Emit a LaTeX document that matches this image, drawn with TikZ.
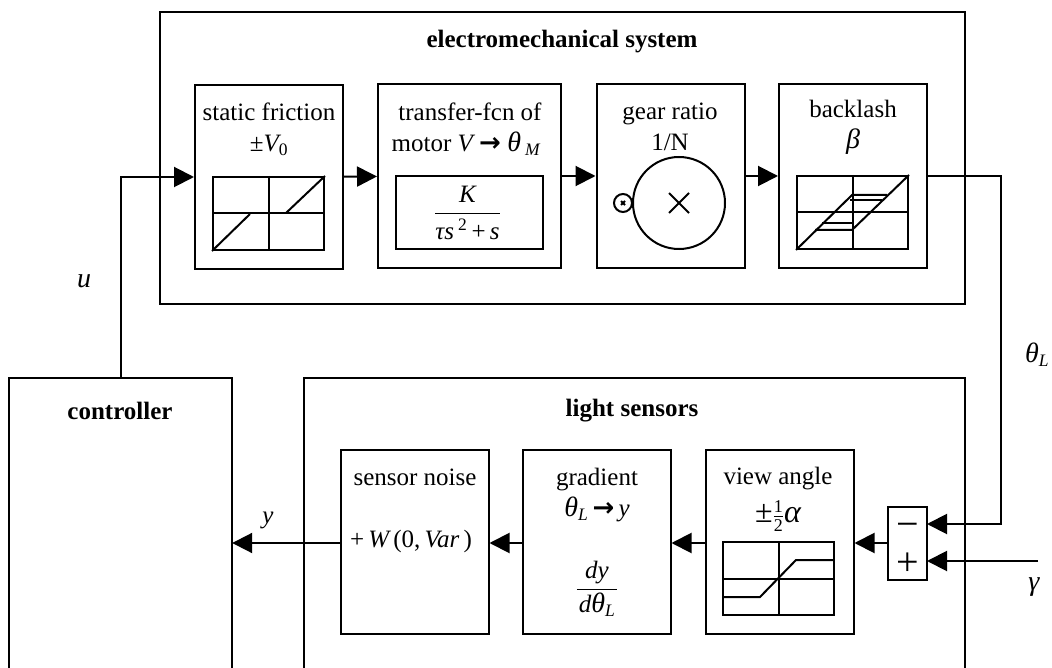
\documentclass[tikz,border=0pt]{standalone}
\usepackage{fontspec}
\setmainfont{Liberation Serif}
\newfontfamily\arrowfont{DejaVu Sans}
\usetikzlibrary{arrows.meta}
\newcommand{\bigit}[1]{{\fontsize{28}{31}\selectfont\itshape #1}}
\newcommand{\subL}{\textsubscript{\itshape L}}
\newcommand{\toarrow}{{\arrowfont\bfseries\fontsize{26}{26}\selectfont →}}
\tikzset{
  block/.style={rectangle,draw=black,line width=2pt,fill=white,minimum width=148,minimum height=184,inner sep=0},
  plotbox/.style={rectangle,draw=black,line width=2pt,minimum width=111,minimum height=73,inner sep=0},
  wire/.style={line width=2pt,-{Triangle[length=20pt,width=20pt]}},
  plain/.style={line width=2pt},
  frame/.style={line width=2pt},
  txt/.style={inner sep=0,align=center,font=\fontsize{25}{31}\selectfont},
  big/.style={inner sep=0,font=\fontsize{40}{40}\selectfont}
}
\begin{document}
\begin{tikzpicture}[x=1pt,y=-1pt]
    \useasboundingbox (0,0) rectangle (1052,668);
    \node (mech) at (562.5,158) [rectangle,draw=black,line width=2pt,minimum width=805,minimum height=292,inner sep=0] {};
    \node (sensors) at (634.5,523) [rectangle,draw=none,minimum width=661,minimum height=290,inner sep=0] {};
    \node (controller) at (120.5,523) [rectangle,draw=none,minimum width=223,minimum height=290,inner sep=0] {};
    \draw [frame] (sensors.south west) -- (sensors.north west) -- (sensors.north east) -- (sensors.south east);
    \draw [frame] (controller.south west) -- (controller.north west) -- (controller.north east) -- (controller.south east);
    \node (mechtitle) at (562,42) [txt] {\bfseries electromechanical system};
    \node (sensortitle) at (632,411) [txt] {\bfseries light sensors};
    \node (ctrltitle) at (120,411) [txt] {\bfseries controller};

    \node (friction) at (269,177) [block] {};
    \node (motor) at (469.5,176) [block,minimum width=183] {};
    \node (gear) at (670.5,176) [block] {};
    \node (backlash) at (853,176) [block] {};
    \node (noise) at (414.5,541.5) [block] {};
    \node (gradient) at (596.5,541.5) [block] {};
    \node (view) at (779.5,541.5) [block] {};
    \node (sum) at (907.5,543) [rectangle,draw=black,line width=2pt,fill=white,minimum width=39,minimum height=73,inner sep=0] {};
    \node (minus) at (907.5,530) [big] {−};
    \node (plus) at (907.5,564) [big] {+};
    \coordinate (minusin) at (927,524);
    \coordinate (plusin) at (927,561);

    \node (frictiontext) at (269,129) [txt] {static friction\\±{\itshape V}\textsubscript{0}};
    \node (motortext) at (466,129) [txt] {\hspace{8pt}transfer-fcn of\\motor {\itshape V} \toarrow\ \bigit{θ}\,\textsubscript{\itshape M}};
    \node (geartext) at (670,127) [txt] {gear ratio\\1/N};
    \node (backlashtext) at (853,127) [txt] {backlash\\\bigit{β}};
    \node (noisetext) at (415,477) [txt] {sensor noise};
    \node (noiseterm) at (411,541) [txt] {+\,{\itshape W}\,(0,\,{\itshape Var}\,)};
    \node (gradtext) at (597,495) [txt] {gradient\\\bigit{θ}\subL\,\toarrow\,{\itshape y}};
    \node (viewtext) at (778,479) [txt] {view angle};
    \node (viewterm) at (778,516) [txt] {{\fontsize{32}{31}\selectfont ±}$\frac{\mbox{\fontsize{18}{18}\selectfont 1}}{\mbox{\fontsize{18}{18}\selectfont 2}}${\fontsize{32}{31}\selectfont\itshape α}};

    \node (fricplot) at (268.5,213.5) [plotbox] {};
    \draw [plain] (fricplot.north) -- (fricplot.south);
    \draw [plain] (fricplot.west) -- (fricplot.east);
    \draw [plain] (fricplot.south west) -- (250,214);
    \draw [plain] (286,213) -- (fricplot.north east);

    \node (motorplot) at (469.5,213) [plotbox,minimum width=147] {};
    \node (motorfrac) at (467.5,213) [txt] {$\displaystyle\frac{\mbox{\itshape K}}{\mbox{\rule{0pt}{25pt}{\itshape τs}\,\textsuperscript{2}\,+\,{\itshape s}}}$};

    \node (wheel) at (679,203) [circle,draw=black,line width=2pt,minimum size=92,inner sep=0] {};
    \node (pinion) at (623,203) [circle,draw=black,line width=2pt,minimum size=18,inner sep=0] {};
    \draw [plain] (669,193) -- (689,213);
    \draw [plain] (669,213) -- (689,193);
    \draw [plain] (621,201) -- (625,205);
    \draw [plain] (621,205) -- (625,201);

    \node (lashplot) at (852.5,212.5) [plotbox] {};
    \draw [plain] (lashplot.north) -- (lashplot.south);
    \draw [plain] (lashplot.west) -- (lashplot.east);
    \draw [plain] (lashplot.south west) -- (852,195) -- (887,195);
    \draw [plain] (lashplot.north east) -- (852,230) -- (815,230);
    \draw [plain] (850,200) -- (882,200);
    \draw [plain] (822,223) -- (853,223);

    \node (viewplot) at (778.5,578.5) [plotbox] {};
    \draw [plain] (viewplot.north) -- (viewplot.south);
    \draw [plain] (viewplot.west) -- (viewplot.east);
    \draw [plain] (723,597) -- (760,597) -- (796,560) -- (834,560);

    \node (dy) at (597,589) [txt] {$\displaystyle\frac{\mbox{\itshape dy}}{\mbox{\hspace{2pt}{\itshape d}\bigit{θ}\subL\hspace{2pt}}}$};

    \coordinate (lturn) at (1001,176);
    \coordinate (gammaend) at (1038,561);
    \draw [wire] (controller.north) -- (controller.north |- friction.west) -- (friction.west);
    \draw [wire] (friction) -- (motor);
    \draw [wire] (motor) -- (gear);
    \draw [wire] (gear) -- (backlash);
    \draw [wire] (backlash.east) -- (lturn) -- (lturn |- minusin) -- (minusin);
    \draw [wire] (gammaend) -- (plusin);
    \draw [wire] (sum.west) -- (sum -| view.east);
    \draw [wire] (sum -| view.west) -- (sum -| gradient.east);
    \draw [wire] (sum -| gradient.west) -- (sum -| noise.east);
    \draw [wire] (sum -| noise.west) -- (sum -| controller.east);

    \node (ulabel) at (84,281) [txt] {\bigit{u}};
    \node (ylabel) at (268,520) [txt] {\itshape y};
    \node (thetalabel) at (1037,355) [txt] {\bigit{θ}\subL};
    \node (gammalabel) at (1034,587) [txt] {\bigit{γ}};
\end{tikzpicture}
\end{document}
